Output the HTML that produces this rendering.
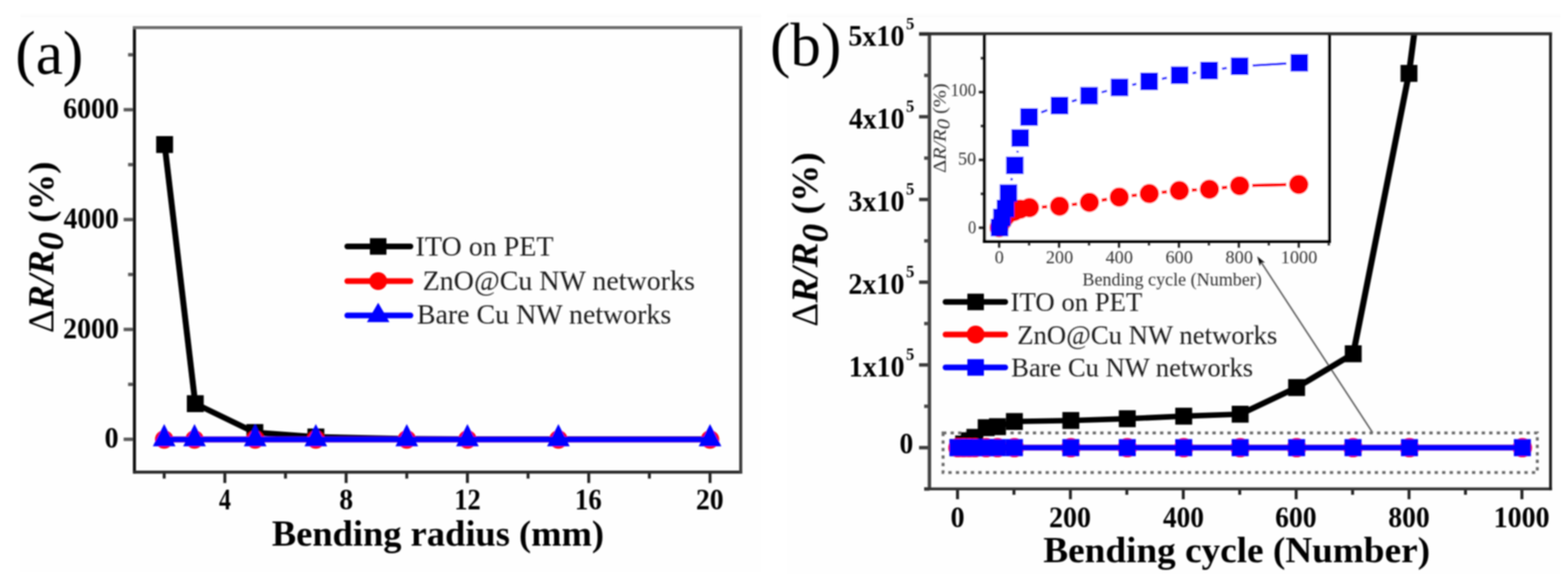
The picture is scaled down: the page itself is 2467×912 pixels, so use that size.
<!DOCTYPE html>
<html lang="en">
<head>
<meta charset="utf-8">
<title>Bending tests: resistance change versus bending radius and bending cycle</title>
<style>
html, body { margin: 0; padding: 0; background: #ffffff; }
body { width: 2467px; height: 912px; font-family: "Liberation Serif", "Times New Roman", serif; }
svg { display: block; }
</style>
</head>
<body>
<svg width="2467" height="912" viewBox="0 0 2467 912" role="img" aria-label="Resistance change versus bending radius (a) and bending cycle (b)">
<defs><filter id="soft" x="0" y="0" width="2467" height="912" filterUnits="userSpaceOnUse"><feGaussianBlur stdDeviation="0.8"/></filter></defs>
<rect x="0" y="0" width="2467" height="912" fill="#ffffff"/>
<rect x="32.5" y="21.5" width="1165" height="878" fill="#fefefe"/>
<rect x="1238" y="21.5" width="1217" height="880" fill="#fefefe"/>
<g filter="url(#soft)">
<g>
<rect x="32" y="23.4" width="1165.5" height="3.4" fill="#fbfbfb"/>
<rect x="1238" y="23.4" width="1217" height="3.4" fill="#fbfbfb"/>
<line x1="194.50" y1="690.75" x2="211.50" y2="690.75" stroke="#5c5c5c" stroke-width="5.4" />
<line x1="194.50" y1="518.00" x2="211.50" y2="518.00" stroke="#5c5c5c" stroke-width="5.4" />
<line x1="194.50" y1="345.25" x2="211.50" y2="345.25" stroke="#5c5c5c" stroke-width="5.4" />
<line x1="194.50" y1="172.50" x2="211.50" y2="172.50" stroke="#5c5c5c" stroke-width="5.4" />
<line x1="201.50" y1="604.38" x2="211.50" y2="604.38" stroke="#5c5c5c" stroke-width="5.4" />
<line x1="201.50" y1="431.62" x2="211.50" y2="431.62" stroke="#5c5c5c" stroke-width="5.4" />
<line x1="201.50" y1="258.88" x2="211.50" y2="258.88" stroke="#5c5c5c" stroke-width="5.4" />
<line x1="201.50" y1="86.12" x2="211.50" y2="86.12" stroke="#5c5c5c" stroke-width="5.4" />
<line x1="353.75" y1="742.40" x2="353.75" y2="759.50" stroke="#222" stroke-width="4.6" />
<line x1="544.59" y1="742.40" x2="544.59" y2="759.50" stroke="#222" stroke-width="4.6" />
<line x1="735.43" y1="742.40" x2="735.43" y2="759.50" stroke="#222" stroke-width="4.6" />
<line x1="926.27" y1="742.40" x2="926.27" y2="759.50" stroke="#222" stroke-width="4.6" />
<line x1="1117.11" y1="742.40" x2="1117.11" y2="759.50" stroke="#222" stroke-width="4.6" />
<line x1="258.33" y1="742.40" x2="258.33" y2="752.50" stroke="#222" stroke-width="4.6" />
<line x1="449.17" y1="742.40" x2="449.17" y2="752.50" stroke="#222" stroke-width="4.6" />
<line x1="640.01" y1="742.40" x2="640.01" y2="752.50" stroke="#222" stroke-width="4.6" />
<line x1="830.85" y1="742.40" x2="830.85" y2="752.50" stroke="#222" stroke-width="4.6" />
<line x1="1021.69" y1="742.40" x2="1021.69" y2="752.50" stroke="#222" stroke-width="4.6" />
<polyline points="307.25,634.75 401.00,680.10 497.00,687.10 640.01,690.00 735.43,690.50 878.56,690.50 1117.11,690.50" fill="none" stroke="#000000" stroke-width="9" stroke-linejoin="round" />
<polyline points="259.00,227.30 307.25,634.75" fill="none" stroke="#000000" stroke-width="9.4" stroke-linejoin="round" />
<rect x="245.70" y="214.00" width="26.6" height="26.6" fill="#000000"/>
<rect x="293.95" y="621.45" width="26.6" height="26.6" fill="#000000"/>
<rect x="387.70" y="666.80" width="26.6" height="26.6" fill="#000000"/>
<rect x="483.70" y="673.80" width="26.6" height="26.6" fill="#000000"/>
<polyline points="258.33,691.00 306.04,691.00 401.46,691.00 496.88,691.00 640.01,691.00 735.43,691.00 878.56,691.00 1117.11,691.00" fill="none" stroke="#ff0000" stroke-width="9" stroke-linejoin="round" />
<circle cx="258.33" cy="691.00" r="14.5" fill="#ff0000"/>
<circle cx="306.04" cy="691.00" r="14.5" fill="#ff0000"/>
<circle cx="401.46" cy="691.00" r="14.5" fill="#ff0000"/>
<circle cx="496.88" cy="691.00" r="14.5" fill="#ff0000"/>
<circle cx="640.01" cy="691.00" r="14.5" fill="#ff0000"/>
<circle cx="735.43" cy="691.00" r="14.5" fill="#ff0000"/>
<circle cx="878.56" cy="691.00" r="14.5" fill="#ff0000"/>
<circle cx="1117.11" cy="691.00" r="14.5" fill="#ff0000"/>
<polyline points="258.33,691.00 306.04,691.00 401.46,691.00 496.88,691.00 640.01,691.00 735.43,691.00 878.56,691.00 1117.11,691.00" fill="none" stroke="#0000ff" stroke-width="9" stroke-linejoin="round" />
<polygon points="258.33,666.67 276.18,701.67 240.48,701.67" fill="#0000ff"/>
<polygon points="306.04,666.67 323.89,701.67 288.19,701.67" fill="#0000ff"/>
<polygon points="401.46,666.67 419.31,701.67 383.61,701.67" fill="#0000ff"/>
<polygon points="496.88,666.67 514.73,701.67 479.03,701.67" fill="#0000ff"/>
<polygon points="640.01,666.67 657.86,701.67 622.16,701.67" fill="#0000ff"/>
<polygon points="735.43,666.67 753.28,701.67 717.58,701.67" fill="#0000ff"/>
<polygon points="878.56,666.67 896.41,701.67 860.71,701.67" fill="#0000ff"/>
<polygon points="1117.11,666.67 1134.96,701.67 1099.26,701.67" fill="#0000ff"/>
<line x1="211.50" y1="41.30" x2="211.50" y2="744.60" stroke="#111" stroke-width="4.8" />
<line x1="209.50" y1="742.40" x2="1167.60" y2="742.40" stroke="#2a2a2a" stroke-width="4.8" />
<line x1="1165.40" y1="41.30" x2="1165.40" y2="744.60" stroke="#3c3c3c" stroke-width="4.8" />
<line x1="209.50" y1="43.30" x2="1167.60" y2="43.30" stroke="#6a6a6a" stroke-width="4.8" />
<line x1="546.40" y1="387.50" x2="645.80" y2="387.50" stroke="#000000" stroke-width="9" stroke-linecap="round"/>
<rect x="582.00" y="374.50" width="26" height="26" fill="#000000"/>
<line x1="546.40" y1="442.00" x2="645.80" y2="442.00" stroke="#ff0000" stroke-width="9" stroke-linecap="round"/>
<circle cx="595.00" cy="442.00" r="14" fill="#ff0000"/>
<line x1="546.40" y1="496.00" x2="645.80" y2="496.00" stroke="#0000ff" stroke-width="9" stroke-linecap="round"/>
<polygon points="595.00,475.97 612.75,506.47 577.25,506.47" fill="#0000ff"/>
<line x1="1446.00" y1="703.90" x2="1462.30" y2="703.90" stroke="#3a3a3a" stroke-width="5.4" />
<line x1="1446.00" y1="573.82" x2="1462.30" y2="573.82" stroke="#3a3a3a" stroke-width="5.4" />
<line x1="1446.00" y1="443.74" x2="1462.30" y2="443.74" stroke="#3a3a3a" stroke-width="5.4" />
<line x1="1446.00" y1="313.66" x2="1462.30" y2="313.66" stroke="#3a3a3a" stroke-width="5.4" />
<line x1="1446.00" y1="183.58" x2="1462.30" y2="183.58" stroke="#3a3a3a" stroke-width="5.4" />
<line x1="1446.00" y1="53.50" x2="1462.30" y2="53.50" stroke="#3a3a3a" stroke-width="5.4" />
<line x1="1454.00" y1="768.94" x2="1462.30" y2="768.94" stroke="#4a4a4a" stroke-width="5.4" />
<line x1="1454.00" y1="638.86" x2="1462.30" y2="638.86" stroke="#4a4a4a" stroke-width="5.4" />
<line x1="1454.00" y1="508.78" x2="1462.30" y2="508.78" stroke="#4a4a4a" stroke-width="5.4" />
<line x1="1454.00" y1="378.70" x2="1462.30" y2="378.70" stroke="#4a4a4a" stroke-width="5.4" />
<line x1="1454.00" y1="248.62" x2="1462.30" y2="248.62" stroke="#4a4a4a" stroke-width="5.4" />
<line x1="1454.00" y1="118.54" x2="1462.30" y2="118.54" stroke="#4a4a4a" stroke-width="5.4" />
<line x1="1506.50" y1="768.70" x2="1506.50" y2="785.00" stroke="#222" stroke-width="4.6" />
<line x1="1684.10" y1="768.70" x2="1684.10" y2="785.00" stroke="#222" stroke-width="4.6" />
<line x1="1861.70" y1="768.70" x2="1861.70" y2="785.00" stroke="#222" stroke-width="4.6" />
<line x1="2039.30" y1="768.70" x2="2039.30" y2="785.00" stroke="#222" stroke-width="4.6" />
<line x1="2216.90" y1="768.70" x2="2216.90" y2="785.00" stroke="#222" stroke-width="4.6" />
<line x1="2394.50" y1="768.70" x2="2394.50" y2="785.00" stroke="#222" stroke-width="4.6" />
<line x1="1595.30" y1="768.70" x2="1595.30" y2="778.00" stroke="#222" stroke-width="4.6" />
<line x1="1772.90" y1="768.70" x2="1772.90" y2="778.00" stroke="#222" stroke-width="4.6" />
<line x1="1950.50" y1="768.70" x2="1950.50" y2="778.00" stroke="#222" stroke-width="4.6" />
<line x1="2128.10" y1="768.70" x2="2128.10" y2="778.00" stroke="#222" stroke-width="4.6" />
<line x1="2305.70" y1="768.70" x2="2305.70" y2="778.00" stroke="#222" stroke-width="4.6" />
<line x1="2159.80" y1="680.60" x2="1984.03" y2="412.20" stroke="#5a5a5a" stroke-width="2.4" />
<polygon points="1978.00,403.00 1990.23,412.92 1984.30,412.62 1982.20,418.18" fill="#111"/>
<rect x="1483.8" y="680.8" width="934.9" height="62.2" fill="none" stroke="#6a6a6a" stroke-width="4.6" stroke-dasharray="5.2 6.57"/>
<polyline points="1507.20,703.90 1516.08,698.00 1524.96,693.00 1533.84,687.70 1551.60,672.50 1569.36,670.90 1596.00,662.80 1684.80,661.20 1773.60,658.40 1862.40,654.40 1951.20,651.30" fill="none" stroke="#000000" stroke-width="8.6" stroke-linejoin="round" />
<polyline points="1951.20,651.30 2040.00,609.40 2129.10,556.30" fill="none" stroke="#000000" stroke-width="9.2" stroke-linejoin="round" />
<polyline points="2129.10,556.30 2216.80,115.40 2225.00,53.20" fill="none" stroke="#000000" stroke-width="9.6" stroke-linejoin="round" />
<rect x="1493.90" y="690.60" width="26.6" height="26.6" fill="#000000"/>
<rect x="1502.78" y="684.70" width="26.6" height="26.6" fill="#000000"/>
<rect x="1511.66" y="679.70" width="26.6" height="26.6" fill="#000000"/>
<rect x="1520.54" y="674.40" width="26.6" height="26.6" fill="#000000"/>
<rect x="1538.30" y="659.20" width="26.6" height="26.6" fill="#000000"/>
<rect x="1556.06" y="657.60" width="26.6" height="26.6" fill="#000000"/>
<rect x="1582.70" y="649.50" width="26.6" height="26.6" fill="#000000"/>
<rect x="1671.50" y="647.90" width="26.6" height="26.6" fill="#000000"/>
<rect x="1760.30" y="645.10" width="26.6" height="26.6" fill="#000000"/>
<rect x="1849.10" y="641.10" width="26.6" height="26.6" fill="#000000"/>
<rect x="1937.90" y="638.00" width="26.6" height="26.6" fill="#000000"/>
<rect x="2026.70" y="596.10" width="26.6" height="26.6" fill="#000000"/>
<rect x="2115.80" y="543.00" width="26.6" height="26.6" fill="#000000"/>
<rect x="2203.50" y="102.10" width="26.6" height="26.6" fill="#000000"/>
<polyline points="1507.20,703.90 1516.08,703.90 1524.96,703.90 1533.84,703.90 1551.60,703.90 1569.36,703.90 1596.00,703.90 1684.80,703.90 1773.60,703.90 1862.40,703.90 1951.20,703.90 2040.00,703.90 2128.80,703.90 2217.60,703.90 2395.20,703.90" fill="none" stroke="#ff0000" stroke-width="8.8" stroke-linejoin="round" />
<circle cx="1507.20" cy="703.90" r="15.2" fill="#ff0000"/>
<circle cx="1516.08" cy="703.90" r="15.2" fill="#ff0000"/>
<circle cx="1524.96" cy="703.90" r="15.2" fill="#ff0000"/>
<circle cx="1533.84" cy="703.90" r="15.2" fill="#ff0000"/>
<circle cx="1551.60" cy="703.90" r="15.2" fill="#ff0000"/>
<circle cx="1569.36" cy="703.90" r="15.2" fill="#ff0000"/>
<circle cx="1596.00" cy="703.90" r="15.2" fill="#ff0000"/>
<circle cx="1684.80" cy="703.90" r="15.2" fill="#ff0000"/>
<circle cx="1773.60" cy="703.90" r="15.2" fill="#ff0000"/>
<circle cx="1862.40" cy="703.90" r="15.2" fill="#ff0000"/>
<circle cx="1951.20" cy="703.90" r="15.2" fill="#ff0000"/>
<circle cx="2040.00" cy="703.90" r="15.2" fill="#ff0000"/>
<circle cx="2128.80" cy="703.90" r="15.2" fill="#ff0000"/>
<circle cx="2217.60" cy="703.90" r="15.2" fill="#ff0000"/>
<circle cx="2395.20" cy="703.90" r="15.2" fill="#ff0000"/>
<polyline points="1507.20,703.90 1516.08,703.90 1524.96,703.90 1533.84,703.90 1551.60,703.90 1569.36,703.90 1596.00,703.90 1684.80,703.90 1773.60,703.90 1862.40,703.90 1951.20,703.90 2040.00,703.90 2128.80,703.90 2217.60,703.90 2395.20,703.90" fill="none" stroke="#0000ff" stroke-width="8.8" stroke-linejoin="round" />
<rect x="1493.80" y="690.50" width="26.8" height="26.8" fill="#0000ff"/>
<rect x="1502.68" y="690.50" width="26.8" height="26.8" fill="#0000ff"/>
<rect x="1511.56" y="690.50" width="26.8" height="26.8" fill="#0000ff"/>
<rect x="1520.44" y="690.50" width="26.8" height="26.8" fill="#0000ff"/>
<rect x="1538.20" y="690.50" width="26.8" height="26.8" fill="#0000ff"/>
<rect x="1555.96" y="690.50" width="26.8" height="26.8" fill="#0000ff"/>
<rect x="1582.60" y="690.50" width="26.8" height="26.8" fill="#0000ff"/>
<rect x="1671.40" y="690.50" width="26.8" height="26.8" fill="#0000ff"/>
<rect x="1760.20" y="690.50" width="26.8" height="26.8" fill="#0000ff"/>
<rect x="1849.00" y="690.50" width="26.8" height="26.8" fill="#0000ff"/>
<rect x="1937.80" y="690.50" width="26.8" height="26.8" fill="#0000ff"/>
<rect x="2026.60" y="690.50" width="26.8" height="26.8" fill="#0000ff"/>
<rect x="2115.40" y="690.50" width="26.8" height="26.8" fill="#0000ff"/>
<rect x="2204.20" y="690.50" width="26.8" height="26.8" fill="#0000ff"/>
<rect x="2381.80" y="690.50" width="26.8" height="26.8" fill="#0000ff"/>
<rect x="1549.0" y="55.5" width="542.5999999999999" height="324.1" fill="#fff"/>
<line x1="1540.00" y1="358.10" x2="1549.00" y2="358.10" stroke="#222" stroke-width="4" />
<line x1="1540.00" y1="251.45" x2="1549.00" y2="251.45" stroke="#222" stroke-width="4" />
<line x1="1540.00" y1="144.80" x2="1549.00" y2="144.80" stroke="#222" stroke-width="4" />
<line x1="1543.00" y1="304.78" x2="1549.00" y2="304.78" stroke="#333" stroke-width="4" />
<line x1="1543.00" y1="198.13" x2="1549.00" y2="198.13" stroke="#333" stroke-width="4" />
<line x1="1543.00" y1="91.48" x2="1549.00" y2="91.48" stroke="#333" stroke-width="4" />
<line x1="1572.00" y1="379.60" x2="1572.00" y2="389.50" stroke="#222" stroke-width="3.6" />
<line x1="1666.28" y1="379.60" x2="1666.28" y2="389.50" stroke="#222" stroke-width="3.6" />
<line x1="1760.56" y1="379.60" x2="1760.56" y2="389.50" stroke="#222" stroke-width="3.6" />
<line x1="1854.84" y1="379.60" x2="1854.84" y2="389.50" stroke="#222" stroke-width="3.6" />
<line x1="1949.12" y1="379.60" x2="1949.12" y2="389.50" stroke="#222" stroke-width="3.6" />
<line x1="2043.40" y1="379.60" x2="2043.40" y2="389.50" stroke="#222" stroke-width="3.6" />
<line x1="1619.14" y1="379.60" x2="1619.14" y2="386.00" stroke="#333" stroke-width="3.6" />
<line x1="1713.42" y1="379.60" x2="1713.42" y2="386.00" stroke="#333" stroke-width="3.6" />
<line x1="1807.70" y1="379.60" x2="1807.70" y2="386.00" stroke="#333" stroke-width="3.6" />
<line x1="1901.98" y1="379.60" x2="1901.98" y2="386.00" stroke="#333" stroke-width="3.6" />
<line x1="1996.26" y1="379.60" x2="1996.26" y2="386.00" stroke="#333" stroke-width="3.6" />
<line x1="2090.54" y1="379.60" x2="2090.54" y2="386.00" stroke="#333" stroke-width="3.6" />
<line x1="1639.28" y1="325.59" x2="1647.42" y2="325.21" stroke="#ff0000" stroke-width="5.2" />
<line x1="1686.44" y1="321.78" x2="1694.56" y2="320.72" stroke="#ff0000" stroke-width="5.2" />
<line x1="1733.31" y1="314.83" x2="1741.69" y2="313.37" stroke="#ff0000" stroke-width="5.2" />
<line x1="1780.46" y1="307.69" x2="1788.74" y2="306.71" stroke="#ff0000" stroke-width="5.2" />
<line x1="1827.71" y1="302.50" x2="1835.99" y2="301.70" stroke="#ff0000" stroke-width="5.2" />
<line x1="1875.08" y1="298.89" x2="1883.22" y2="298.51" stroke="#ff0000" stroke-width="5.2" />
<line x1="1922.27" y1="295.35" x2="1930.93" y2="294.35" stroke="#ff0000" stroke-width="5.2" />
<line x1="1970.00" y1="291.66" x2="2023.80" y2="290.44" stroke="#ff0000" stroke-width="5.2" />
<circle cx="1572.00" cy="358.00" r="15.2" fill="#ff0000"/>
<circle cx="1576.70" cy="348.00" r="15.2" fill="#ff0000"/>
<circle cx="1581.50" cy="341.00" r="15.2" fill="#ff0000"/>
<circle cx="1586.00" cy="336.50" r="15.2" fill="#ff0000"/>
<circle cx="1595.60" cy="332.50" r="15.2" fill="#ff0000"/>
<circle cx="1605.00" cy="329.00" r="15.2" fill="#ff0000"/>
<circle cx="1619.70" cy="326.50" r="15.2" fill="#ff0000"/>
<circle cx="1667.00" cy="324.30" r="15.2" fill="#ff0000"/>
<circle cx="1714.00" cy="318.20" r="15.2" fill="#ff0000"/>
<circle cx="1761.00" cy="310.00" r="15.2" fill="#ff0000"/>
<circle cx="1808.20" cy="304.40" r="15.2" fill="#ff0000"/>
<circle cx="1855.50" cy="299.80" r="15.2" fill="#ff0000"/>
<circle cx="1902.80" cy="297.60" r="15.2" fill="#ff0000"/>
<circle cx="1950.40" cy="292.10" r="15.2" fill="#ff0000"/>
<circle cx="2043.40" cy="290.00" r="15.2" fill="#ff0000"/>
<line x1="1591.18" y1="283.62" x2="1592.02" y2="279.98" stroke="#0000ff" stroke-width="3.6" />
<line x1="1600.62" y1="239.90" x2="1601.18" y2="237.10" stroke="#0000ff" stroke-width="3.6" />
<line x1="1638.30" y1="176.72" x2="1647.80" y2="173.18" stroke="#0000ff" stroke-width="3.6" />
<line x1="1686.45" y1="159.52" x2="1694.05" y2="156.98" stroke="#0000ff" stroke-width="3.6" />
<line x1="1733.28" y1="145.13" x2="1741.62" y2="142.87" stroke="#0000ff" stroke-width="3.6" />
<line x1="1781.49" y1="133.41" x2="1787.91" y2="132.09" stroke="#0000ff" stroke-width="3.6" />
<line x1="1828.09" y1="123.94" x2="1835.91" y2="122.36" stroke="#0000ff" stroke-width="3.6" />
<line x1="1876.24" y1="115.07" x2="1882.16" y2="114.13" stroke="#0000ff" stroke-width="3.6" />
<line x1="1922.70" y1="108.07" x2="1930.10" y2="107.03" stroke="#0000ff" stroke-width="3.6" />
<line x1="1970.86" y1="103.00" x2="2023.84" y2="99.90" stroke="#0000ff" stroke-width="3.6" />
<rect x="1558.80" y="344.00" width="27.6" height="27.6" fill="#0000ff"/>
<rect x="1562.60" y="328.20" width="27.6" height="27.6" fill="#0000ff"/>
<rect x="1568.20" y="314.00" width="27.6" height="27.6" fill="#0000ff"/>
<rect x="1572.80" y="289.80" width="27.6" height="27.6" fill="#0000ff"/>
<rect x="1582.80" y="246.20" width="27.6" height="27.6" fill="#0000ff"/>
<rect x="1591.40" y="203.20" width="27.6" height="27.6" fill="#0000ff"/>
<rect x="1605.30" y="170.10" width="27.6" height="27.6" fill="#0000ff"/>
<rect x="1653.20" y="152.20" width="27.6" height="27.6" fill="#0000ff"/>
<rect x="1699.70" y="136.70" width="27.6" height="27.6" fill="#0000ff"/>
<rect x="1747.60" y="123.70" width="27.6" height="27.6" fill="#0000ff"/>
<rect x="1794.20" y="114.20" width="27.6" height="27.6" fill="#0000ff"/>
<rect x="1842.20" y="104.50" width="27.6" height="27.6" fill="#0000ff"/>
<rect x="1888.60" y="97.10" width="27.6" height="27.6" fill="#0000ff"/>
<rect x="1936.60" y="90.40" width="27.6" height="27.6" fill="#0000ff"/>
<rect x="2030.50" y="84.90" width="27.6" height="27.6" fill="#0000ff"/>
<line x1="1549.00" y1="53.50" x2="1549.00" y2="382.00" stroke="#000" stroke-width="4.8" />
<line x1="1546.60" y1="379.60" x2="2094.00" y2="379.60" stroke="#000" stroke-width="4.8" />
<line x1="2091.60" y1="53.50" x2="2091.60" y2="382.00" stroke="#000" stroke-width="4.6" />
<line x1="1462.30" y1="51.20" x2="1462.30" y2="770.90" stroke="#444" stroke-width="5.4" />
<line x1="1454.00" y1="768.70" x2="2441.70" y2="768.70" stroke="#333" stroke-width="4.6" />
<line x1="2439.50" y1="51.20" x2="2439.50" y2="770.90" stroke="#1a1a1a" stroke-width="4.4" />
<line x1="1446.00" y1="53.20" x2="2441.70" y2="53.20" stroke="#2a2a2a" stroke-width="4.8" />
<line x1="1487.60" y1="474.75" x2="1581.60" y2="474.75" stroke="#000000" stroke-width="9" stroke-linecap="round"/>
<rect x="1522.00" y="461.75" width="26" height="26" fill="#000000"/>
<line x1="1487.60" y1="526.00" x2="1581.60" y2="526.00" stroke="#ff0000" stroke-width="9" stroke-linecap="round"/>
<circle cx="1535.00" cy="526.00" r="14" fill="#ff0000"/>
<line x1="1487.60" y1="577.75" x2="1581.60" y2="577.75" stroke="#0000ff" stroke-width="9" stroke-linecap="round"/>
<rect x="1522.00" y="564.75" width="26" height="26" fill="#0000ff"/>
</g>
<g font-family="'Liberation Serif', 'Times New Roman', serif" fill="#000" xml:space="preserve">
<text transform="translate(24.06 115.50) scale(0.9851 1.0000)" font-size="98">(a)</text>
<text transform="translate(99.13 186.00) scale(0.9367 1.0000)" font-size="47" font-weight="bold">6000</text>
<text transform="translate(100.07 358.75) scale(0.9264 1.0000)" font-size="47" font-weight="bold">4000</text>
<text transform="translate(99.13 531.50) scale(0.9367 1.0000)" font-size="47" font-weight="bold">2000</text>
<text transform="translate(164.62 704.25) scale(0.9400 1.0000)" font-size="47" font-weight="bold">0</text>
<text transform="translate(344.40 801.00) scale(0.8000 1.0000)" font-size="47" font-weight="bold">4</text>
<text transform="translate(533.84 801.00) scale(0.9300 1.0000)" font-size="47" font-weight="bold">8</text>
<text transform="translate(714.65 801.00) scale(0.8866 1.0000)" font-size="47" font-weight="bold">12</text>
<text transform="translate(904.62 801.00) scale(0.8952 1.0000)" font-size="47" font-weight="bold">16</text>
<text transform="translate(1095.10 801.00) scale(0.9267 1.0000)" font-size="47" font-weight="bold">20</text>
<text transform="translate(427.76 857.75) scale(0.9890 1.0000)" font-size="58" font-weight="bold">Bending radius (mm)</text>
<text transform="translate(653.72 402.40) scale(1.0142 1.0000)" font-size="43.5" fill="#1c1c1c">ITO on PET</text>
<text transform="translate(664.98 455.70) scale(1.0119 1.0000)" font-size="43.5" fill="#1c1c1c">ZnO@Cu NW networks</text>
<text transform="translate(655.99 509.40) scale(1.0089 1.0000)" font-size="43.5" fill="#1c1c1c">Bare Cu NW networks</text>
<text transform="translate(83.50 523.79) rotate(-90) scale(0.9955 1.0000)" font-size="58" font-weight="bold" font-style="italic"><tspan font-style="normal" font-weight="normal">Δ</tspan>R/R<tspan dy="0.26em">0</tspan><tspan dy="-0.26em" font-style="normal"> (%)</tspan></text>
<text transform="translate(1211.58 103.20) scale(0.9811 1.0000)" font-size="98">(b)</text>
<text transform="translate(1335.59 592.02) scale(0.9409 1.0000)" font-size="46.5" font-weight="bold">1x10<tspan font-size="27.5" dy="-26.2" dx="2.6">5</tspan></text>
<text transform="translate(1334.70 461.94) scale(0.9491 1.0000)" font-size="46.5" font-weight="bold">2x10<tspan font-size="27.5" dy="-26.2" dx="2.6">5</tspan></text>
<text transform="translate(1334.70 331.86) scale(0.9491 1.0000)" font-size="46.5" font-weight="bold">3x10<tspan font-size="27.5" dy="-26.2" dx="2.6">5</tspan></text>
<text transform="translate(1335.66 201.78) scale(0.9402 1.0000)" font-size="46.5" font-weight="bold">4x10<tspan font-size="27.5" dy="-26.2" dx="2.6">5</tspan></text>
<text transform="translate(1334.70 71.70) scale(0.9491 1.0000)" font-size="46.5" font-weight="bold">5x10<tspan font-size="27.5" dy="-26.2" dx="2.6">5</tspan></text>
<text transform="translate(1415.36 713.40) scale(0.9200 1.0000)" font-size="47" font-weight="bold">0</text>
<text transform="translate(1495.57 828.50) scale(0.9425 1.0000)" font-size="47" font-weight="bold">0</text>
<text transform="translate(1650.58 828.50) scale(0.9343 1.0000)" font-size="47" font-weight="bold">200</text>
<text transform="translate(1829.79 828.50) scale(0.9132 1.0000)" font-size="47" font-weight="bold">400</text>
<text transform="translate(2006.35 828.50) scale(0.9231 1.0000)" font-size="47" font-weight="bold">600</text>
<text transform="translate(2184.35 828.50) scale(0.9231 1.0000)" font-size="47" font-weight="bold">800</text>
<text transform="translate(2349.95 828.50) scale(0.9386 1.0000)" font-size="47" font-weight="bold">1000</text>
<text transform="translate(1641.49 884.00) scale(1.0100 1.0000)" font-size="58" font-weight="bold">Bending cycle (Number)</text>
<text transform="translate(1286.20 513.79) rotate(-90) scale(0.9956 1.0000)" font-size="59" font-weight="bold" font-style="italic"><tspan font-style="normal" font-weight="normal">Δ</tspan>R/R<tspan dy="0.26em">0</tspan><tspan dy="-0.26em" font-style="normal"> (%)</tspan></text>
<text transform="translate(1590.10 489.00) scale(1.0010 1.0000)" font-size="42" fill="#1c1c1c">ITO on PET</text>
<text transform="translate(1600.40 540.80) scale(1.0012 1.0000)" font-size="42" fill="#1c1c1c">ZnO@Cu NW networks</text>
<text transform="translate(1591.11 591.60) scale(0.9934 1.0000)" font-size="42" fill="#1c1c1c">Bare Cu NW networks</text>
<text transform="translate(1495.51 151.00) scale(0.8976 1.0000)" font-size="30" fill="#333">100</text>
<text transform="translate(1507.29 258.80) scale(0.9556 1.0000)" font-size="30" fill="#333">50</text>
<text transform="translate(1522.88 367.00) scale(0.8654 1.0000)" font-size="30" fill="#333">0</text>
<text transform="translate(1565.04 413.50) scale(0.9615 1.0000)" font-size="30" fill="#333">0</text>
<text transform="translate(1645.55 413.50) scale(0.9535 1.0000)" font-size="30" fill="#333">200</text>
<text transform="translate(1739.55 413.50) scale(0.9535 1.0000)" font-size="30" fill="#333">400</text>
<text transform="translate(1833.74 413.50) scale(0.9558 1.0000)" font-size="30" fill="#333">600</text>
<text transform="translate(1928.04 413.50) scale(0.9628 1.0000)" font-size="30" fill="#333">800</text>
<text transform="translate(2015.12 413.50) scale(0.9589 1.0000)" font-size="30" fill="#333">1000</text>
<text transform="translate(1703.05 448.50) scale(0.9466 1.0000)" font-size="30" fill="#333">Bending cycle (Number)</text>
<text transform="translate(1488.40 272.07) rotate(-90) scale(1.0705 1.0000)" font-size="30" font-style="italic" fill="#333"><tspan font-style="normal">Δ</tspan>R/R<tspan dy="0.2em">0</tspan><tspan dy="-0.2em" font-style="normal"> (%)</tspan></text>
</g>
</g>
</svg>
</body>
</html>
